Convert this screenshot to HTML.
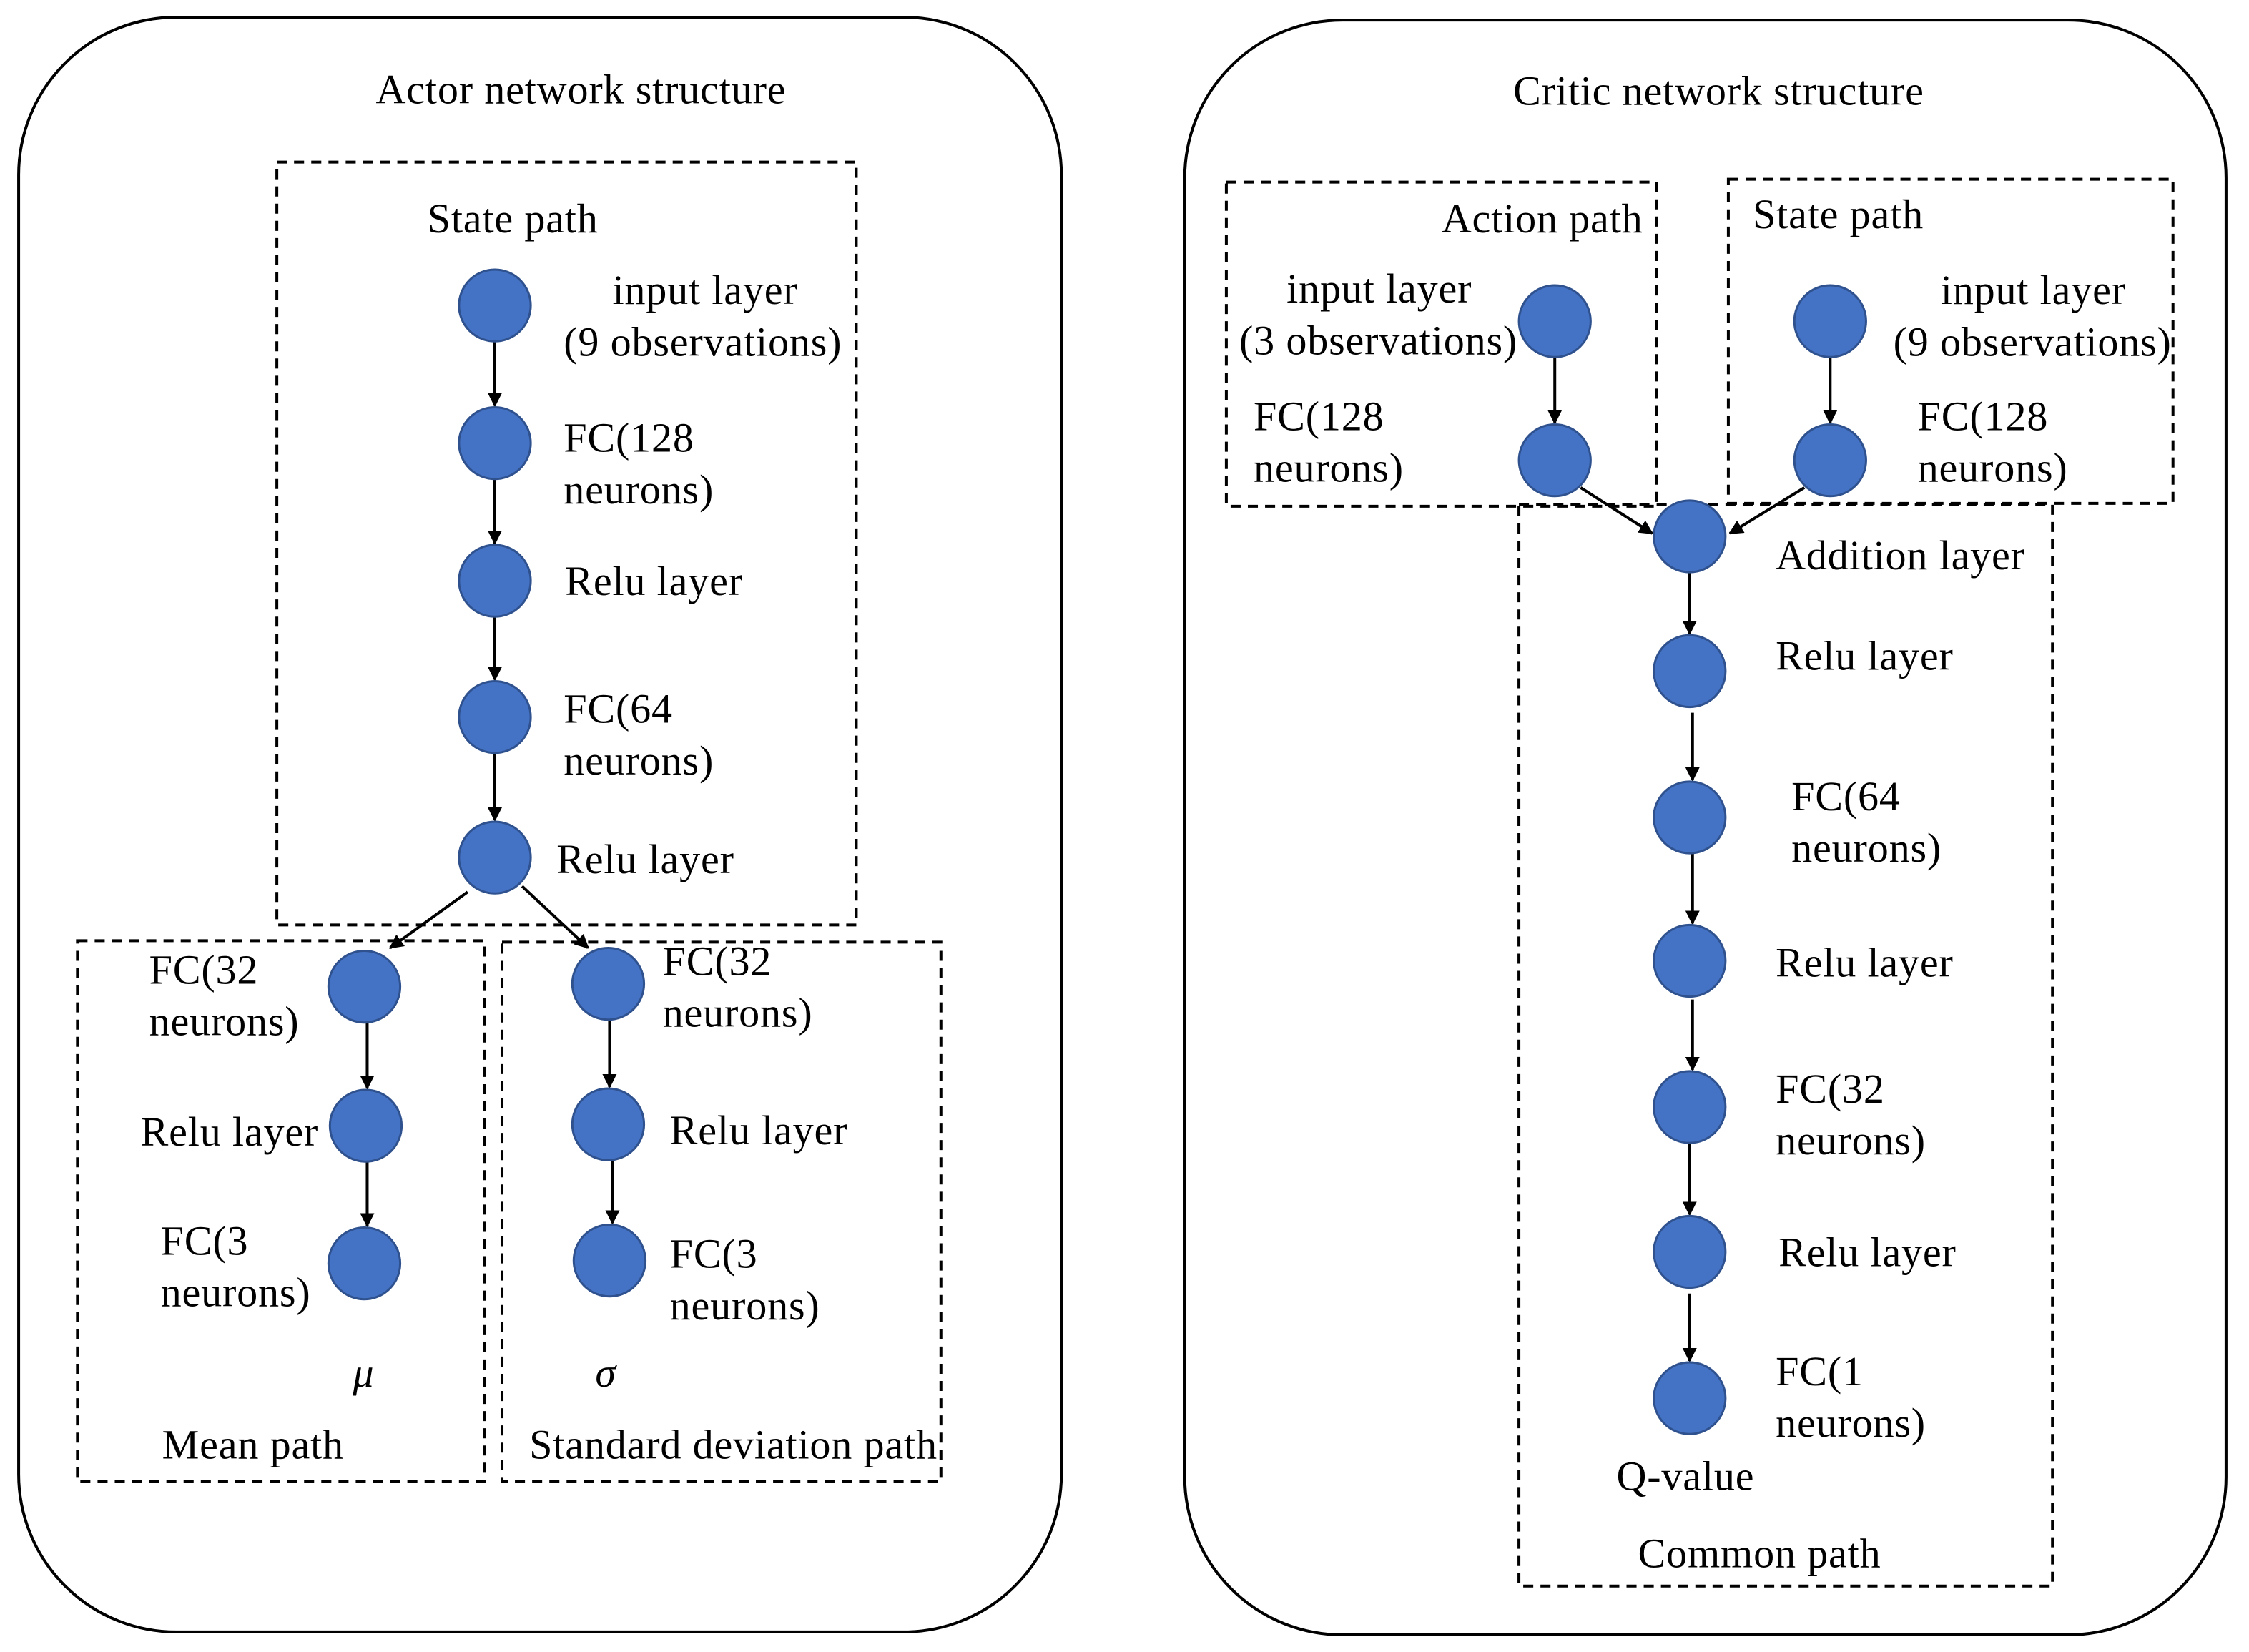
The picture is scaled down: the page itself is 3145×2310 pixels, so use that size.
<!DOCTYPE html>
<html><head><meta charset="utf-8"><style>
html,body{margin:0;padding:0;background:#fff}
svg{display:block}
text{font-family:"Liberation Serif",serif;font-size:29px;letter-spacing:0.4px;fill:#000}
</style></head><body>
<svg width="3145" height="2310" viewBox="0 0 1568 1152" preserveAspectRatio="none" xmlns="http://www.w3.org/2000/svg">
<defs><marker id="a" markerWidth="10" markerHeight="10" refX="9" refY="5" orient="auto" markerUnits="userSpaceOnUse"><path d="M0,0 L10,5 L0,10 z" fill="#000"/></marker></defs>
<g fill="none" stroke="#000" stroke-width="2">
<rect x="13" y="12" width="727" height="1126" rx="110"/>
<rect x="826" y="14" width="726" height="1126" rx="110"/>
</g>
<g fill="none" stroke="#000" stroke-width="2" stroke-dasharray="7,5">
<rect x="193" y="113" width="404" height="532"/>
<rect x="54" y="656" width="284" height="377"/>
<rect x="350" y="657" width="306" height="376"/>
<rect x="855" y="127" width="300" height="226"/>
<rect x="1205" y="125" width="310" height="226"/>
<rect x="1059" y="352" width="372" height="754"/>
</g>
<g stroke="#000" stroke-width="2" marker-end="url(#a)">
<line x1="345" y1="238" x2="345" y2="283"/>
<line x1="345" y1="334" x2="345" y2="379"/>
<line x1="345" y1="430" x2="345" y2="474"/>
<line x1="345" y1="525" x2="345" y2="572"/>
<line x1="326" y1="622" x2="272" y2="661"/>
<line x1="364" y1="618" x2="410" y2="661"/>
<line x1="256" y1="713" x2="256" y2="759"/>
<line x1="256" y1="810" x2="256" y2="855"/>
<line x1="425" y1="711" x2="425" y2="758"/>
<line x1="427" y1="809" x2="427" y2="853"/>
<line x1="1084" y1="249" x2="1084" y2="295"/>
<line x1="1276" y1="249" x2="1276" y2="295"/>
<line x1="1102" y1="340" x2="1152" y2="372"/>
<line x1="1258" y1="340" x2="1206" y2="372"/>
<line x1="1178" y1="399" x2="1178" y2="442"/>
<line x1="1180" y1="497" x2="1180" y2="544"/>
<line x1="1180" y1="595" x2="1180" y2="644"/>
<line x1="1180" y1="697" x2="1180" y2="746"/>
<line x1="1178" y1="797" x2="1178" y2="847"/>
<line x1="1178" y1="902" x2="1178" y2="949"/>
</g>
<g fill="#4472C4" stroke="#2F528F" stroke-width="1.5">
<circle cx="345" cy="213" r="25"/><circle cx="345" cy="309" r="25"/><circle cx="345" cy="405" r="25"/><circle cx="345" cy="500" r="25"/><circle cx="345" cy="598" r="25"/>
<circle cx="254" cy="688" r="25"/><circle cx="255" cy="785" r="25"/><circle cx="254" cy="881" r="25"/>
<circle cx="424" cy="686" r="25"/><circle cx="424" cy="784" r="25"/><circle cx="425" cy="879" r="25"/>
<circle cx="1084" cy="224" r="25"/><circle cx="1084" cy="321" r="25"/>
<circle cx="1276" cy="224" r="25"/><circle cx="1276" cy="321" r="25"/>
<circle cx="1178" cy="374" r="25"/><circle cx="1178" cy="468" r="25"/><circle cx="1178" cy="570" r="25"/><circle cx="1178" cy="670" r="25"/><circle cx="1178" cy="772" r="25"/><circle cx="1178" cy="873" r="25"/><circle cx="1178" cy="975" r="25"/>
</g>
<text x="262" y="72">Actor network structure</text>
<text x="298" y="162">State path</text>
<text x="427" y="212">input layer</text>
<text x="393" y="248">(9 observations)</text>
<text x="393" y="315">FC(128</text><text x="393" y="351">neurons)</text>
<text x="394" y="415">Relu layer</text>
<text x="393" y="504">FC(64</text><text x="393" y="540">neurons)</text>
<text x="388" y="609">Relu layer</text>
<text x="104" y="686">FC(32</text><text x="104" y="722">neurons)</text>
<text x="98" y="799">Relu layer</text>
<text x="112" y="875">FC(3</text><text x="112" y="911">neurons)</text>
<text x="246" y="967" font-style="italic">μ</text>
<text x="113" y="1017">Mean path</text>
<text x="462" y="680">FC(32</text><text x="462" y="716">neurons)</text>
<text x="467" y="798">Relu layer</text>
<text x="467" y="884">FC(3</text><text x="467" y="920">neurons)</text>
<text x="415" y="967" font-style="italic">σ</text>
<text x="369" y="1017">Standard deviation path</text>
<text x="1055" y="73">Critic network structure</text>
<text x="1005" y="162">Action path</text>
<text x="897" y="211">input layer</text>
<text x="864" y="247">(3 observations)</text>
<text x="874" y="300">FC(128</text><text x="874" y="336">neurons)</text>
<text x="1222" y="159">State path</text>
<text x="1353" y="212">input layer</text>
<text x="1320" y="248">(9 observations)</text>
<text x="1337" y="300">FC(128</text><text x="1337" y="336">neurons)</text>
<text x="1238" y="397">Addition layer</text>
<text x="1238" y="467">Relu layer</text>
<text x="1249" y="565">FC(64</text><text x="1249" y="601">neurons)</text>
<text x="1238" y="681">Relu layer</text>
<text x="1238" y="769">FC(32</text><text x="1238" y="805">neurons)</text>
<text x="1240" y="883">Relu layer</text>
<text x="1238" y="966">FC(1</text><text x="1238" y="1002">neurons)</text>
<text x="1127" y="1039">Q-value</text>
<text x="1142" y="1093">Common path</text>
</svg>
</body></html>
